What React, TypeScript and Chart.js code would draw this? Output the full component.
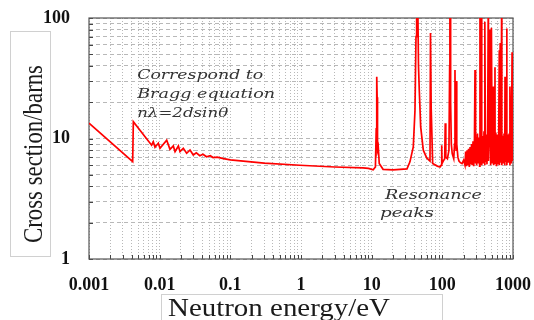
import { useEffect, useRef } from 'react';
import { Chart, registerables } from 'chart.js';

Chart.register(...registerables);

// Axis ticks
const xTickValues = [0.001, 0.01, 0.1, 1, 10, 100, 1000];
const xTickLabels = ['0.001', '0.01', '0.1', '1', '10', '100', '1000'];
const yTickValues = [1, 10, 100];
const yTickLabels = ['1', '10', '100'];

// Titles
const xTitle = 'Neutron energy/eV';
const yTitle = 'Cross section/barns';

// Bragg-edge region (energy eV, cross section barns)
const braggEnergy = [0.001, 0.00415, 0.00424, 0.0077, 0.00813, 0.00859, 0.00957, 0.0101, 0.01257, 0.014, 0.0156, 0.0165, 0.0184, 0.0194, 0.0216, 0.0241, 0.0269, 0.0299, 0.033, 0.037, 0.041, 0.046, 0.052, 0.057, 0.065, 0.08, 0.1, 0.3, 0.96, 3, 7.5];
const braggCross = [13.4, 6.42, 13.8, 8.8, 9.4, 8.45, 9.12, 8.3, 9.7, 8.13, 8.67, 7.77, 8.67, 7.77, 8.3, 7.54, 8.03, 7.3, 7.6, 7.2, 7.4, 7.05, 7.2, 6.95, 7.0, 6.8, 6.65, 6.25, 6.0, 5.8, 5.7];

// First resonances
const resonanceEnergy = [9.0, 10.5, 11.3, 11.6, 11.8, 11.95, 12.1, 12.4, 12.8, 14.5, 20, 31.6, 34.8, 38.8, 41, 42.4, 43.3, 44.8, 46, 47.2, 49.4, 53.8, 60.1, 66.9, 68.0, 69.5, 73, 85, 92.7, 96, 98, 99, 103, 108, 110, 112, 118, 124, 127, 128, 129.5, 131, 134, 138, 145, 149, 151, 153, 157, 159, 161, 166, 172, 180, 190, 200];
const resonanceCross = [5.65, 5.5, 5.8, 12, 32.6, 22, 8, 8.5, 6.2, 5.55, 5.5, 5.6, 6.4, 8.5, 17, 70, 150, 150, 40, 25, 12.5, 8, 6.9, 6.5, 75, 18, 6.2, 5.9, 5.8, 6.0, 8.8, 6.2, 6.5, 6.8, 13.4, 7.0, 6.8, 8, 40, 150, 150, 20, 9, 7.5, 6.8, 9, 37, 10, 8, 30, 9, 7, 6.5, 6.3, 6.2, 6.6];

// Dense resonance band
const bandEnergy = [209, 214, 219, 224, 230, 235, 241, 247, 253, 259, 265, 272, 278, 285, 290, 292, 299, 306, 314, 321, 329, 337, 341, 345, 353, 360, 362, 370, 380, 389, 398, 401, 408, 418, 428, 438, 447, 449, 460, 472, 483, 495, 507, 519, 526, 532, 545, 556, 558, 571, 585, 599, 613, 628, 640, 643, 659, 675, 692, 695, 712, 729, 747, 765, 771, 784, 803, 815, 822, 842, 862, 883, 904, 906, 926, 948, 971, 995, 1000];
const bandCross = [6.0, 7.8, 5.9, 8.0, 6.0, 8.2, 5.8, 8.5, 6.1, 9.0, 6.0, 9.5, 5.9, 10, 37, 6.2, 10.5, 6.0, 11, 6.3, 10.2, 5.9, 150, 6.5, 11, 150, 6.0, 10.5, 6.2, 11.5, 6.0, 93, 6.4, 10.8, 6.1, 11, 150, 6.5, 10.5, 80, 6.0, 83, 6.3, 11, 27, 6.0, 10.5, 39, 6.2, 11.2, 5.9, 10.8, 6.1, 11, 54, 6.0, 62, 6.3, 150, 6.0, 10.5, 6.2, 11, 6.0, 32.6, 6.4, 11, 82, 6.0, 10.8, 6.3, 11, 6.0, 27, 11, 6.2, 52, 6.5, 11];

// Annotations (anchored in data coordinates)
const annotationText = ['Correspond to', 'Bragg equation', 'nλ=2dsinθ', 'Resonance', 'peaks'];
const annotationEnergy = [0.0048, 0.0048, 0.0048, 15.4, 13.1];
const annotationCross = [31.2, 21.7, 15.1, 3.15, 2.23];
const annotationWidth = [126, 138, 91, 97, 54];

function withMinors(majors: number[]): number[] {
  const out: number[] = [];
  for (let i = 0; i < majors.length - 1; i++) {
    for (let k = 1; k <= 9; k++) out.push(majors[i] * k);
  }
  out.push(majors[majors.length - 1]);
  return out;
}

function labelFor(v: number, vals: number[], labels: string[]): string {
  const idx = vals.findIndex((m) => Math.abs(v / m - 1) < 1e-6);
  return idx >= 0 ? labels[idx] : '';
}

const framePlugin = {
  id: 'frame',
  beforeDatasetsDraw(chart: any) {
    const { ctx, chartArea: a, scales } = chart;
    ctx.save();
    ctx.strokeStyle = '#444';
    ctx.lineWidth = 1;
    ctx.beginPath();
    for (const t of scales.x.ticks) {
      const px = Math.round(scales.x.getPixelForValue(t.value)) + 0.5;
      ctx.moveTo(px, a.bottom);
      ctx.lineTo(px, a.bottom - 4);
    }
    for (const t of scales.y.ticks) {
      const py = Math.round(scales.y.getPixelForValue(t.value)) + 0.5;
      ctx.moveTo(a.left, py);
      ctx.lineTo(a.left + 4, py);
    }
    ctx.stroke();
    ctx.strokeStyle = '#555';
    ctx.lineWidth = 1.2;
    ctx.strokeRect(a.left, a.top, a.right - a.left, a.bottom - a.top);
    ctx.restore();
  },
};

const titlePlugin = {
  id: 'titles',
  afterDraw(chart: any) {
    const { ctx } = chart;
    ctx.save();
    ctx.strokeStyle = '#d0d0d0';
    ctx.lineWidth = 1;
    ctx.strokeRect(10.5, 31.5, 40, 225);
    ctx.strokeRect(161.5, 294.5, 281, 40);
    ctx.fillStyle = '#1a1a1a';
    ctx.textAlign = 'left';
    ctx.textBaseline = 'alphabetic';

    // y title
    ctx.save();
    ctx.font = '27px "Liberation Serif"';
    const wy = ctx.measureText(yTitle).width;
    ctx.translate(42, 243);
    ctx.rotate(-Math.PI / 2);
    ctx.scale(178 / wy, 1);
    ctx.fillText(yTitle, 0, 0);
    ctx.restore();

    // x title
    ctx.save();
    ctx.font = '26px "Liberation Serif"';
    const wx = ctx.measureText(xTitle).width;
    ctx.translate(168, 316);
    ctx.scale(222 / wx, 1);
    ctx.fillText(xTitle, 0, 0);
    ctx.restore();
    ctx.restore();
  },
};

const annotationPlugin = {
  id: 'notes',
  afterDatasetsDraw(chart: any) {
    const { ctx, scales } = chart;
    ctx.save();
    ctx.fillStyle = '#333';
    ctx.font = 'italic 13px "DejaVu Serif"';
    ctx.textAlign = 'left';
    ctx.textBaseline = 'alphabetic';
    annotationText.forEach((t, i) => {
      const px = scales.x.getPixelForValue(annotationEnergy[i]);
      const py = scales.y.getPixelForValue(annotationCross[i]);
      const w = ctx.measureText(t).width;
      ctx.save();
      ctx.translate(px, py);
      ctx.scale(annotationWidth[i] / w, 1);
      ctx.fillText(t, 0, 0);
      ctx.restore();
    });
    ctx.restore();
  },
};

export default function App() {
  const ref = useRef<HTMLCanvasElement | null>(null);
  useEffect(() => {
    document.body.style.margin = '0';
    const canvas = ref.current;
    if (!canvas) return;
    const energies = [...braggEnergy, ...resonanceEnergy, ...bandEnergy];
    const cross = [...braggCross, ...resonanceCross, ...bandCross];
    const points = energies.map((e, i) => ({ x: e, y: cross[i] }));
    const tickFont = { family: '"Liberation Serif"', size: 18, weight: 'bold' as const };
    const chart = new Chart(canvas, {
      type: 'scatter',
      data: {
        datasets: [
          {
            data: points,
            showLine: true,
            borderColor: '#ff0000',
            backgroundColor: '#ff0000',
            borderWidth: 1.7,
            pointRadius: 0,
            tension: 0,
          } as any,
        ],
      },
      options: {
        animation: false,
        responsive: false,
        devicePixelRatio: 1,
        layout: { padding: { top: 18, right: 21, left: 0, bottom: 0 } },
        plugins: { legend: { display: false }, tooltip: { enabled: false } },
        scales: {
          x: {
            type: 'logarithmic',
            position: 'bottom',
            min: 0.001,
            max: 1000,
            afterBuildTicks: (s: any) => {
              s.ticks = withMinors(xTickValues).map((v) => ({ value: v }));
            },
            afterFit: (s: any) => {
              s.height = 61;
              s.paddingLeft = 0;
              s.paddingRight = 0;
            },
            ticks: {
              autoSkip: false,
              maxRotation: 0,
              padding: 16,
              color: '#111',
              font: tickFont,
              callback: (v: any) => labelFor(Number(v), xTickValues, xTickLabels),
            },
            grid: { color: '#b8b8b8', lineWidth: 1, drawTicks: false },
            border: { display: false, dash: [1, 2] },
          },
          y: {
            type: 'logarithmic',
            position: 'left',
            min: 1,
            max: 100,
            afterBuildTicks: (s: any) => {
              s.ticks = withMinors(yTickValues).map((v) => ({ value: v }));
            },
            afterFit: (s: any) => {
              s.width = 89;
              s.paddingTop = 0;
              s.paddingBottom = 0;
            },
            ticks: {
              autoSkip: false,
              padding: 19,
              color: '#111',
              font: tickFont,
              callback: (v: any) => labelFor(Number(v), yTickValues, yTickLabels),
            },
            grid: { color: '#b8b8b8', lineWidth: 1, drawTicks: false },
            border: { display: false, dash: [4, 3] },
          },
        },
      } as any,
      plugins: [framePlugin, titlePlugin, annotationPlugin],
    });
    return () => chart.destroy();
  }, []);
  return (
    <div style={{ position: 'absolute', left: 0, top: 0, width: 534, height: 320 }}>
      <canvas ref={ref} width={534} height={320} style={{ display: 'block' }} />
    </div>
  );
}
